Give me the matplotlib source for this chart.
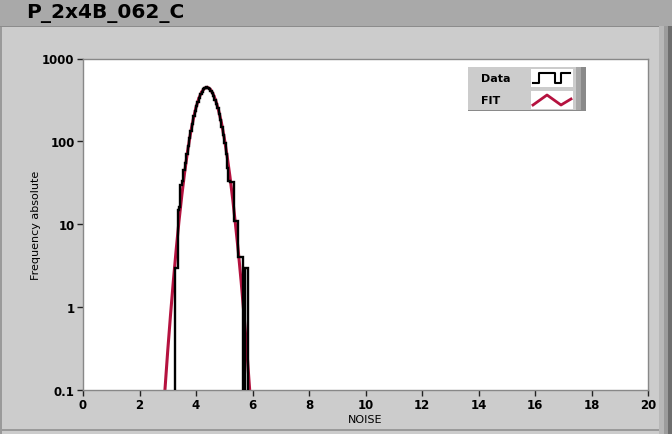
import numpy as np
import matplotlib.pyplot as plt
from matplotlib.patches import Rectangle
from matplotlib.lines import Line2D

# histogram of NOISE: left bin edges (0.05 wide) and counts
bin_left = [3.25, 3.30, 3.35, 3.40, 3.45, 3.50, 3.55, 3.60, 3.65, 3.70,
            3.75, 3.80, 3.85, 3.90, 3.95, 4.00, 4.05, 4.10, 4.15, 4.20,
            4.25, 4.30, 4.35, 4.40, 4.45, 4.50, 4.55, 4.60, 4.65, 4.70,
            4.75, 4.80, 4.85, 4.90, 4.95, 5.00, 5.05, 5.10, 5.15, 5.20,
            5.25, 5.30, 5.35, 5.40, 5.45, 5.50, 5.55, 5.60, 5.65, 5.70,
            5.75, 5.80]
counts = [3, 3, 15, 16, 30, 33, 45, 55, 70, 88,
          110, 135, 160, 200, 230, 265, 300, 335, 370, 395,
          425, 440, 455, 440, 430, 410, 380, 350, 320, 285,
          250, 215, 180, 150, 120, 95, 70, 48, 33, 32,
          32, 32, 11, 11, 11, 4, 4, 4, 0, 0,
          3, 3]
bin_width = 0.05

# fitted curve
fit_x = [2.8, 2.9, 3.0, 3.1, 3.2, 3.3, 3.4, 3.5, 3.6, 3.7, 3.8, 3.9, 4.0,
         4.1, 4.2, 4.3, 4.4, 4.5, 4.6, 4.7, 4.8, 4.9, 5.0, 5.1, 5.2, 5.3,
         5.4, 5.5, 5.6, 5.7, 5.8, 5.9]
fit_y = [0.031, 0.10, 0.30, 0.82, 2.1, 5.0, 11.1, 22.6, 42.8, 75, 122, 183,
         256, 330, 395, 438, 450, 428, 377, 310, 236, 168, 110, 67, 38,
         20, 9.8, 4.6, 2.0, 0.8, 0.3, 0.1]

title = "P_2x4B_062_C"
x_ticks = [0, 2, 4, 6, 8, 10, 12, 14, 16, 18, 20]
y_ticks = [0.1, 1, 10, 100, 1000]
y_ticklabels = ["0.1", "1", "10", "100", "1000"]

W, H = 672, 435
fig = plt.figure(figsize=(W / 100, H / 100), dpi=100, facecolor="#cccccc")

def px_rect(x, y, w, h, color, z=0):
    # rectangle in pixel coords measured from the top-left corner
    fig.add_artist(Rectangle((x / W, 1 - (y + h) / H), w / W, h / H,
                             transform=fig.transFigure, facecolor=color,
                             edgecolor="none", zorder=z))

# window chrome
px_rect(0, 0, W, 27, "#a9a9a9")
px_rect(0, 27, W, 1, "#8c8c8c")
px_rect(0, 28, 2, H - 28, "#9a9a9a")
px_rect(659, 27, 5, H - 27, "#b8b8b8")
px_rect(664, 27, 4, H - 27, "#9c9c9c")
px_rect(668, 27, 4, H - 27, "#6e6e6e")
px_rect(0, 430, 659, 2, "#9a9a9a")
fig.text(26 / W, 1 - 13.5 / H, title, fontsize=14.5, fontweight="bold",
         ha="left", va="center")

ax = fig.add_axes([83 / W, 1 - 391 / H, 565 / W, (391 - 59.5) / H])
ax.set_facecolor("white")

# step outline of the histogram
edges = np.append(bin_left, bin_left[-1] + bin_width)
vals = np.maximum(np.array(counts, dtype=float), 1e-3)
sx = np.repeat(edges, 2)
sy = np.concatenate([[1e-3], np.repeat(vals, 2), [1e-3]])
ax.plot(fit_x, fit_y, color="#b5123f", lw=2.2, zorder=2)
ax.plot(sx, sy, color="black", lw=1.7, zorder=3, solid_joinstyle="miter")

ax.set_yscale("log")
ax.set_xlim(0, 20)
ax.set_ylim(0.1, 1000)
ax.set_xticks(x_ticks)
ax.set_xticklabels([str(t) for t in x_ticks])
ax.set_yticks(y_ticks)
ax.set_yticklabels(y_ticklabels)
ax.minorticks_off()
ax.tick_params(axis="both", direction="out", length=4, width=1,
               color="#222222", labelsize=8.5, pad=2)
for lab in ax.get_xticklabels() + ax.get_yticklabels():
    lab.set_fontweight("bold")
for s in ax.spines.values():
    s.set_color("#888888")
    s.set_linewidth(1)
ax.set_xlabel("NOISE", fontsize=8, labelpad=2)
ax.set_ylabel("Frequency absolute", fontsize=8, labelpad=1)

# legend panel
px_rect(468, 68, 108, 44, "#cccccc", 5)
px_rect(576, 68, 5, 44, "#a8a8a8", 5)
px_rect(581, 68, 5, 44, "#8a8a8a", 5)
px_rect(468, 111, 118, 1, "#8a8a8a", 5)
px_rect(531, 70, 42, 18, "white", 6)
px_rect(531, 92, 42, 18, "white", 6)
fig.text(481 / W, 1 - 79 / H, "Data", fontsize=8, fontweight="bold",
         va="center", zorder=7)
fig.text(481 / W, 1 - 101 / H, "FIT", fontsize=8, fontweight="bold",
         va="center", zorder=7)

def px_line(xs, ys, color, lw):
    fig.add_artist(Line2D([x / W for x in xs], [1 - y / H for y in ys],
                          transform=fig.transFigure, color=color, lw=lw,
                          zorder=8))

px_line([533, 539, 539, 555, 555, 561, 561, 570],
        [84, 84, 74, 74, 84, 84, 74, 74], "black", 1.5)
px_line([533, 547, 561, 571], [106, 96, 106, 100], "#b5123f", 2)

fig.savefig("out.png", dpi=100, facecolor=fig.get_facecolor())
